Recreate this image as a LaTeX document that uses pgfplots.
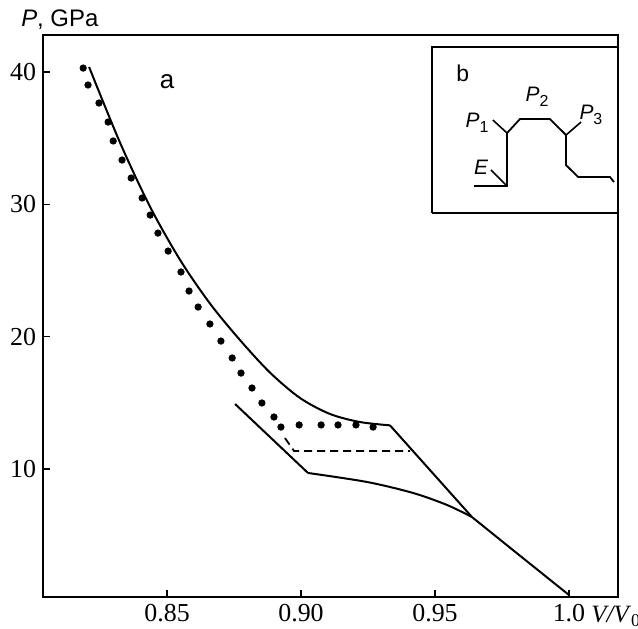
\documentclass[border=0pt]{standalone}
\usepackage{fontspec}
\setmainfont{Liberation Serif}
\newfontfamily\sans{Liberation Sans}
\usepackage{pgfplots}
\pgfplotsset{compat=1.18}

\begin{document}
\begin{tikzpicture}
\begin{axis}[
  scale only axis, width=287.5bp, height=281bp,
  xmin=0.8037, xmax=1.0183, ymin=0.327, ymax=42.80,
  xtick={0.85,0.90,0.95,1.0}, xticklabels={0.85,0.90,0.95,1.0},
  ytick={10,20,30,40},
  xtick pos=left, ytick pos=left, tick align=inside,
  major tick length=3.5bp,
  axis line style={line width=1bp},
  every tick/.style={black, line width=0.8bp},
  tick label style={font=\fontsize{13}{15}\selectfont},
  /pgf/number format/assume math mode=true,
  clip=false,
]
% upper curve
\addplot[black, line width=1bp, smooth] coordinates
  {(0.8209,40.38)(0.8325,34.64)(0.8437,29.80)(0.8549,25.79)(0.8660,22.51)
   (0.8772,19.75)(0.8884,17.29)(0.8996,15.37)(0.9108,14.16)(0.9220,13.55)
   (0.9332,13.30)};
\addplot[black, line width=1bp] coordinates
  {(0.9332,13.30)(0.9638,6.37)};
\addplot[black, line width=1bp, smooth] coordinates
  {(0.9638,6.37)(0.9817,3.45)(1.0,0.48)};
% lower curve
\addplot[black, line width=1bp] coordinates
  {(0.8754,14.91)(0.9026,9.70)};
\addplot[black, line width=1bp, smooth] coordinates
  {(0.9026,9.70)(0.9246,9.02)(0.9418,8.19)(0.9545,7.28)(0.9638,6.37)};
% dashed
\addplot[black, line width=0.9bp, dash pattern=on 4bp off 2.5bp] coordinates
  {(0.8940,12.34)(0.8974,11.36)(0.9407,11.36)};
% dots
\addplot[only marks, mark=*, mark size=1.6bp, black] coordinates
  {(0.8187,40.30)(0.8205,39.02)(0.8246,37.66)(0.8280,36.22)(0.8299,34.79)
   (0.8332,33.35)(0.8366,31.99)(0.8407,30.48)(0.8437,29.19)(0.8466,27.83)
   (0.8504,26.47)(0.8552,24.89)(0.8582,23.45)(0.8616,22.24)(0.8660,20.96)
   (0.8701,19.67)(0.8743,18.39)(0.8776,17.25)(0.8817,16.12)(0.8854,14.99)
   (0.8899,13.93)(0.8925,13.17)(0.8993,13.33)(0.9075,13.33)(0.9138,13.33)
   (0.9205,13.33)(0.9269,13.17)};
% inset b
\addplot[black, line width=1bp] coordinates
  {(0.9489,29.35)(1.0183,29.35)(1.0183,41.89)(0.9489,41.89)(0.9489,29.35)};
\addplot[black, line width=0.9bp] coordinates
  {(0.9646,31.39)(0.9769,31.39)(0.9769,35.39)(0.9817,36.45)(0.9929,36.45)
   (0.9989,35.24)(0.9989,32.97)(1.0034,32.07)(1.0153,32.07)(1.0168,31.69)};
\addplot[black, line width=0.8bp] coordinates {(0.9709,32.60)(0.9769,31.39)};
\addplot[black, line width=0.8bp] coordinates {(0.9716,36.37)(0.9769,35.39)};
\addplot[black, line width=0.8bp] coordinates {(0.9989,35.24)(1.0045,36.22)};

\node[font=\sans\fontsize{13}{15}\selectfont] at (axis cs:0.85,39.25) {a};
\node[font=\sans\fontsize{11.5}{13}\selectfont] at (axis cs:0.9604,39.93) {b};
\node[font=\sans\fontsize{10.5}{12}\selectfont] at (axis cs:0.9657,36.15)
  {\textit{P}\raisebox{-0.45ex}{\fontsize{8}{9}\selectfont 1}};
\node[font=\sans\fontsize{10.5}{12}\selectfont] at (axis cs:0.9881,38.11)
  {\textit{P}\raisebox{-0.45ex}{\fontsize{8}{9}\selectfont 2}};
\node[font=\sans\fontsize{10.5}{12}\selectfont] at (axis cs:1.0082,36.75)
  {\textit{P}\raisebox{-0.45ex}{\fontsize{8}{9}\selectfont 3}};
\node[font=\sans\fontsize{10.5}{12}\selectfont] at (axis cs:0.9672,32.82) {\textit{E}};

\node[anchor=base west, inner sep=0pt, font=\sans\fontsize{12}{14}\selectfont]
  at ([yshift=4bp]rel axis cs:-0.0385,1) {\textit{P}, GPa};
\node[anchor=base west, inner sep=0pt, font=\fontsize{12.5}{15}\selectfont]
  at ([yshift=-12.5bp]rel axis cs:0.953,0) {\textit{V/V}\raisebox{-0.4ex}{\fontsize{9}{10}\selectfont 0}};
\end{axis}
\pgfresetboundingbox
\path ([xshift=-21.5bp,yshift=-16bp]current axis.south west)
  rectangle ([xshift=10bp,yshift=17.5bp]current axis.north east);
\end{tikzpicture}
\end{document}
